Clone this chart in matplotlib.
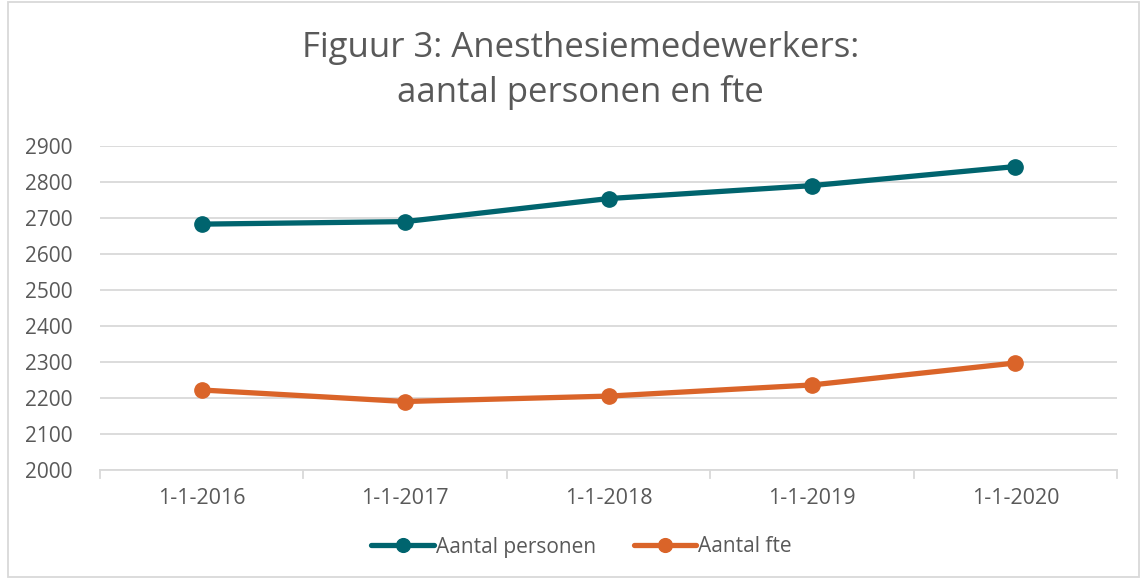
import matplotlib
matplotlib.use("Agg")
import matplotlib.pyplot as plt
from matplotlib.patches import Rectangle

categories = ["1-1-2016", "1-1-2017", "1-1-2018", "1-1-2019", "1-1-2020"]
personen = [2682, 2689, 2753, 2789, 2842]
fte = [2221, 2189, 2204, 2235, 2296]
yticks = [2000, 2100, 2200, 2300, 2400, 2500, 2600, 2700, 2800, 2900]

plt.rcParams['font.family'] = ['Open Sans', 'DejaVu Sans']
txt = '#595959'
grid = '#D9D9D9'

fig = plt.figure(figsize=(11.47, 5.79), dpi=100)
ax = fig.add_axes([100/1147, 1-469.5/579, 1017/1147, (469.5-145.7)/579])

x = list(range(len(categories)))
ax.plot(x, personen, color='#00646E', lw=3.8, marker='o', ms=11, label='Aantal personen', solid_capstyle='round')
ax.plot(x, fte, color='#DA6429', lw=3.8, marker='o', ms=11, label='Aantal fte', solid_capstyle='round')

ax.set_xlim(-0.5, len(categories)-0.5)
ax.set_ylim(2000, 2900)
ax.set_yticks(yticks)
ax.set_yticklabels([str(v) for v in yticks], fontsize=15, color=txt)
ax.set_xticks(x)
ax.set_xticklabels(categories, fontsize=15.5, color=txt)
ax.tick_params(axis='y', length=0, pad=20)
ax.tick_params(axis='x', length=0, pad=13)
for v in [-0.5, 0.5, 1.5, 2.5, 3.5, 4.5]:
    ax.plot([v, v], [0, -0.025], transform=ax.get_xaxis_transform(), color=grid, lw=1.3, clip_on=False)
ax.grid(axis='y', color=grid, lw=1.3)
ax.set_axisbelow(True)
for s in ['top', 'right', 'left']:
    ax.spines[s].set_visible(False)
ax.spines['bottom'].set_color(grid)
ax.spines['bottom'].set_linewidth(1.3)

fig.text(0.506, 1-48/579, "Figuur 3: Anesthesiemedewerkers:", ha='center', va='center', fontsize=25, color=txt)
fig.text(0.506, 1-92/579, "aantal personen en fte", ha='center', va='center', fontsize=25, color=txt)

leg = fig.legend(loc='center', bbox_to_anchor=(0.507, 1-547/579), ncol=2, frameon=False,
                 fontsize=15, handlelength=3.0, handletextpad=0.1, columnspacing=1.8, markerscale=0.9)
for t in leg.get_texts():
    t.set_color(txt)

fig.patches.append(Rectangle((8/1147, 2/579), 1-16/1147, 1-4/579, transform=fig.transFigure,
                             fill=False, edgecolor='#D9D9D9', lw=1.3))

fig.savefig("out.png", dpi=100, facecolor='white')
